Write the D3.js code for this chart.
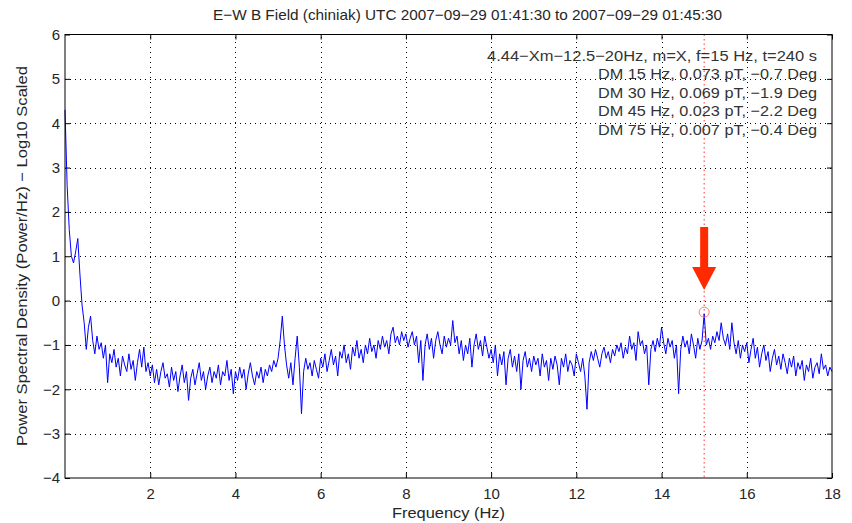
<!DOCTYPE html>
<html>
<head>
<meta charset="utf-8">
<script src="https://cdn.jsdelivr.net/npm/d3@7"></script>
<style>
body{margin:0;background:#fff;}
svg{display:block;font-family:"Liberation Sans",Arial,sans-serif;}
</style>
</head>
<body>
<svg id="c" width="852" height="523"></svg>
<script>
// ---- data ----
const titleText = "E\u2212W B Field (chiniak) UTC 2007\u221209\u221229 01:41:30 to 2007\u221209\u221229 01:45:30";
const xLabel = "Frequency (Hz)";
const yLabel = "Power Spectral Density (Power/Hz) \u2212 Log10 Scaled";
const annotations = [
  "4.44\u2212Xm\u221212.5\u221220Hz, m=X, f=15 Hz, t=240 s",
  "DM 15 Hz, 0.073 pT, \u22120.7 Deg",
  "DM 30 Hz, 0.069 pT, \u22121.9 Deg",
  "DM 45 Hz, 0.023 pT, \u22122.2 Deg",
  "DM 75 Hz, 0.007 pT, \u22120.4 Deg"
];
const xTicks = [2,4,6,8,10,12,14,16,18];
const yTicks = [-4,-3,-2,-1,0,1,2,3,4,5,6];
const freqStep = 0.05; // Hz, spectral sampling
const psd = [
 4.3,2.6,1.6,1.0,0.85,1.1,1.4,0.6,-0.1,-0.5,-1.1,-0.6,-0.35,-0.9,-1.2,-0.8,-1.1,-0.95,-1.3,-1.0,
 -1.85,-1.2,-1.4,-1.1,-1.5,-1.3,-1.7,-1.25,-1.45,-1.6,-1.2,-1.55,-1.35,-1.8,-1.4,-1.1,-1.5,-1.05,-1.6,-1.4,
 -1.7,-1.45,-1.85,-1.55,-1.9,-1.6,-1.4,-1.75,-1.65,-1.95,-1.5,-1.8,-1.6,-2.05,-1.7,-1.45,-1.85,-1.6,-2.25,-1.75,
 -1.55,-1.9,-1.65,-1.4,-1.8,-1.6,-2.0,-1.7,-1.5,-1.85,-1.6,-1.75,-1.45,-1.9,-1.6,-1.7,-1.35,-1.8,-1.55,-2.1,
 -1.6,-1.8,-1.5,-1.75,-1.55,-2.0,-1.65,-1.4,-1.7,-1.9,-1.6,-1.75,-1.5,-1.85,-1.55,-1.7,-1.45,-1.6,-1.35,-1.5,
 -1.3,-0.9,-0.35,-1.0,-1.45,-1.75,-1.4,-1.9,-1.3,-0.8,-1.5,-2.55,-1.6,-1.3,-1.55,-1.4,-1.7,-1.35,-1.55,-1.75,
 -1.3,-1.5,-1.2,-1.6,-1.35,-1.1,-1.45,-1.25,-1.7,-1.15,-1.3,-1.0,-1.4,-1.2,-1.55,-1.05,-1.25,-0.9,-1.3,-1.1,
 -1.4,-1.0,-1.2,-0.85,-1.15,-1.0,-1.3,-0.9,-1.1,-0.8,-1.05,-0.9,-1.2,-0.75,-0.6,-0.95,-0.8,-1.0,-0.7,-0.9,
 -0.75,-1.05,-0.85,-0.7,-1.0,-0.8,-1.4,-0.9,-1.8,-1.0,-0.75,-1.1,-0.85,-1.3,-0.9,-0.7,-1.0,-1.2,-0.8,-1.05,
 -0.85,-1.0,-0.45,-0.95,-0.8,-1.2,-0.9,-1.35,-1.0,-1.2,-0.85,-1.5,-1.0,-0.75,-1.1,-0.9,-1.25,-0.8,-1.05,-1.3,
 -1.1,-1.4,-1.0,-1.7,-1.2,-1.45,-1.15,-1.9,-1.3,-1.1,-1.5,-1.25,-1.6,-1.2,-2.0,-1.35,-1.15,-1.5,-1.3,-1.6,
 -1.25,-1.45,-1.3,-1.7,-1.2,-1.5,-1.35,-1.8,-1.3,-1.55,-1.25,-1.45,-1.9,-1.3,-1.5,-1.2,-1.6,-1.35,-1.45,-1.7,
 -1.2,-1.4,-1.6,-1.3,-1.7,-2.45,-1.4,-1.15,-1.35,-1.1,-1.3,-1.5,-1.2,-1.05,-1.3,-1.15,-1.4,-1.1,-1.25,-1.0,
 -1.15,-0.95,-1.3,-1.05,-1.2,-0.8,-1.1,-0.95,-1.35,-0.7,-1.0,-0.9,-1.2,-1.0,-1.9,-1.1,-0.9,-1.15,-0.85,-1.05,
 -0.6,-0.95,-1.2,-0.85,-1.05,-0.9,-1.3,-1.0,-2.1,-1.1,-0.8,-1.05,-0.9,-1.2,-0.75,-1.0,-1.3,-0.85,-1.1,-0.9,
 -0.3,-1.0,-0.85,-1.1,-0.8,-0.95,-0.7,-0.9,-0.5,-0.85,-1.0,-0.75,-1.1,-0.5,-0.95,-1.2,-0.9,-1.3,-1.0,-1.15,
 -0.95,-1.4,-1.1,-0.85,-1.3,-1.05,-1.5,-1.2,-1.0,-1.35,-1.15,-1.6,-1.3,-1.1,-1.45,-1.25,-1.55,-1.2,-1.4,-1.65,
 -1.3,-1.5,-1.25,-1.7,-1.4,-1.55,-1.35,-1.8,-1.45,-1.6,-1.3,-1.75,-1.5,-1.4,-1.65,-1.2,-1.55,-1.45,-1.7,-1.5,-1.6
];
const markerFreq = 15;
const markerValue = -0.26;
const arrowTop = 1.66, arrowNeck = 0.76, arrowTip = 0.24; // in data units

// ---- drawing ----
const svg = d3.select("#c");
const L = 65, R = 832, T = 34.5, B = 478;
const x = d3.scaleLinear().domain([0,18]).range([L,R]);
const y = d3.scaleLinear().domain([-4,6]).range([B,T]);
const txt = "#262626";
const FS = 15;

// grid
const grid = svg.append("g").attr("stroke","#000").attr("stroke-width",1).attr("stroke-dasharray","1,4");
grid.selectAll("line.v").data(xTicks.filter(d=>d<18)).enter().append("line")
  .attr("x1",d=>Math.round(x(d))+0.5).attr("x2",d=>Math.round(x(d))+0.5).attr("y1",B).attr("y2",T);
grid.selectAll("line.h").data(yTicks.filter(d=>d>-4&&d<6)).enter().append("line")
  .attr("y1",d=>Math.round(y(d))+0.5).attr("y2",d=>Math.round(y(d))+0.5).attr("x1",L).attr("x2",R);

// red dotted marker line
svg.append("line").attr("x1",x(markerFreq)).attr("x2",x(markerFreq)).attr("y1",T).attr("y2",B)
  .attr("stroke","#ff3333").attr("stroke-width",1).attr("stroke-dasharray","1.5,3");

// data line
const line = d3.line().x((d,i)=>x(i*freqStep)).y(d=>y(d));
svg.append("path").datum(psd).attr("d",line).attr("fill","none")
  .attr("stroke","#0000ff").attr("stroke-width",1).attr("stroke-linejoin","round");

// marker circle
svg.append("circle").attr("cx",x(markerFreq)).attr("cy",y(markerValue)).attr("r",5)
  .attr("fill","none").attr("stroke","#ff7777").attr("stroke-width",1);

// red arrow
const ax = x(markerFreq);
const arrow = [[ax-4,y(arrowTop)],[ax+4,y(arrowTop)],[ax+4,y(arrowNeck)],[ax+12,y(arrowNeck)],
  [ax,y(arrowTip)],[ax-12,y(arrowNeck)],[ax-4,y(arrowNeck)]];
svg.append("polygon").attr("points",arrow.map(p=>p.join(",")).join(" ")).attr("fill","#ff2a00");

// axes box
svg.append("rect").attr("x",L).attr("y",T).attr("width",R-L).attr("height",B-T)
  .attr("fill","none").attr("stroke","#000").attr("stroke-width",1);

// axes with inward ticks
const xa = d3.axisBottom(x).tickValues(xTicks).tickSize(-5).tickPadding(10).tickFormat(d3.format("d"));
const gx = svg.append("g").attr("transform",`translate(0,${B})`).call(xa);
const gxt = svg.append("g").attr("transform",`translate(0,${T})`).call(d3.axisTop(x).tickValues(xTicks).tickSize(-5).tickFormat(""));
const ya = d3.axisLeft(y).tickValues(yTicks).tickSize(-5).tickPadding(5).tickFormat(d=>d3.format("d")(d));
const gy = svg.append("g").attr("transform",`translate(${L},0)`).call(ya);
const gyr = svg.append("g").attr("transform",`translate(${R},0)`).call(d3.axisRight(y).tickValues(yTicks).tickSize(-5).tickFormat(""));
[gx,gxt,gy,gyr].forEach(g=>{g.select(".domain").remove();g.selectAll("line").attr("stroke","#000");});
[gx,gy].forEach(g=>g.selectAll("text").attr("font-size",FS).attr("fill",txt).attr("font-family","Liberation Sans, Arial, sans-serif"));

// title & labels
svg.append("text").attr("x",467.5).attr("y",20).attr("text-anchor","middle")
  .attr("font-size",FS).attr("fill",txt).attr("textLength",509).attr("lengthAdjust","spacingAndGlyphs").text(titleText);
svg.append("text").attr("x",448.5).attr("y",518).attr("text-anchor","middle")
  .attr("font-size",FS).attr("fill",txt).attr("textLength",113).attr("lengthAdjust","spacingAndGlyphs").text(xLabel);
svg.append("text").attr("transform",`translate(27,256) rotate(-90)`).attr("text-anchor","middle")
  .attr("font-size",FS).attr("fill",txt).attr("textLength",380).attr("lengthAdjust","spacingAndGlyphs").text(yLabel);

// annotation block
svg.append("g").selectAll("text").data(annotations).enter().append("text")
  .attr("x",817).attr("y",(d,i)=>60.5+i*18.5).attr("text-anchor","end")
  .attr("font-size",FS).attr("fill","#333")
  .attr("textLength",(d,i)=>i===0?330:219).attr("lengthAdjust","spacingAndGlyphs").text(d=>d);
</script>
</body>
</html>
